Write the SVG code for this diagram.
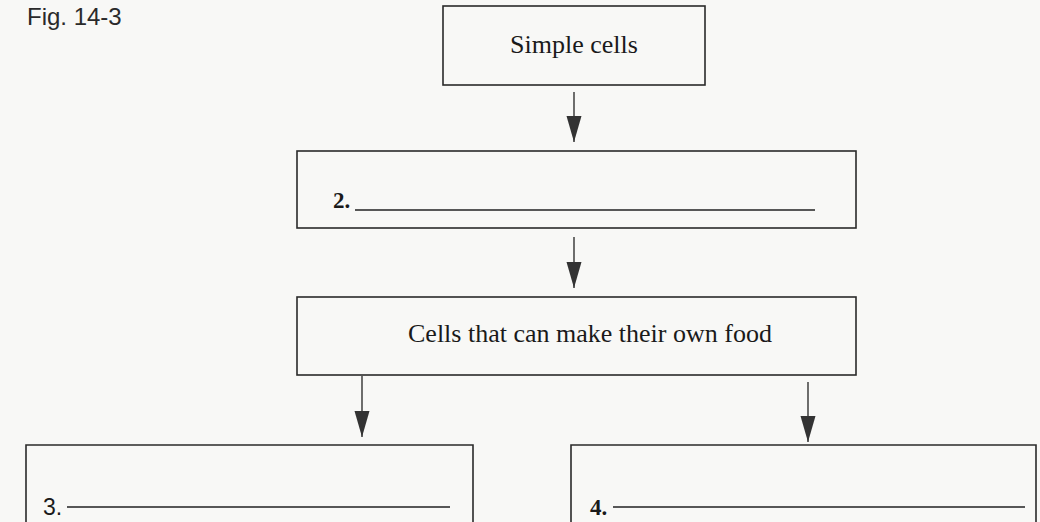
<svg xmlns="http://www.w3.org/2000/svg" width="1040" height="522" viewBox="0 0 1040 522">
  <style>
    .box { fill: none; stroke: #2a2a2a; stroke-width: 1.6; }
    .conn { stroke: #333; stroke-width: 1.4; fill: none; }
    .serif { font-family: "Liberation Serif", "Times New Roman", serif; fill: #1a1a1a; }
    .num { font-family: "Liberation Serif", serif; font-weight: bold; font-size: 23px; fill: #1a1a1a; }
    .num3 { font-family: "Liberation Sans", Arial, sans-serif; font-size: 23px; fill: #1a1a1a; }
    .blank { stroke: #222; stroke-width: 1.5; }
    .fig { font-family: "Liberation Sans", Arial, sans-serif; font-size: 24px; fill: #2a2a2a; }
  </style>
  <defs>
    <marker id="ah" markerUnits="userSpaceOnUse" viewBox="0 -8 27 16" refX="26" refY="0" markerWidth="27" markerHeight="16" orient="auto">
      <path d="M0,-7.5 L26,0 L0,7.5 z" fill="#333"/>
    </marker>
  </defs>
  <rect x="0" y="0" width="1040" height="522" fill="#f8f8f6"/>
  <text class="fig" x="27" y="25">Fig. 14-3</text>

  <g id="node-simple-cells">
    <rect class="box" x="443" y="6" width="262" height="79"/>
    <text class="serif" x="574" y="53" font-size="26" text-anchor="middle">Simple cells</text>
  </g>

  <g id="node-2">
    <rect class="box" x="297" y="151" width="559" height="77"/>
    <text class="num" x="333" y="208">2.</text>
    <line class="blank" x1="355" y1="210" x2="815" y2="210"/>
  </g>

  <g id="node-cells-food">
    <rect class="box" x="297" y="297" width="559" height="78"/>
    <text class="serif" x="408" y="342" font-size="26">Cells that can make their own food</text>
  </g>

  <g id="node-3">
    <path class="box" d="M26,530 V445 H473 V530"/>
    <text class="num3" x="43" y="515">3.</text>
    <line class="blank" x1="67" y1="507" x2="450" y2="507"/>
  </g>

  <g id="node-4">
    <path class="box" d="M571,530 V445 H1036 V530"/>
    <text class="num" x="590" y="515">4.</text>
    <line class="blank" x1="613" y1="507" x2="1025" y2="507"/>
  </g>

  <g id="connectors">
    <line class="conn" x1="574" y1="92" x2="574" y2="142" marker-end="url(#ah)"/>
    <line class="conn" x1="574" y1="237" x2="574" y2="288" marker-end="url(#ah)"/>
    <line class="conn" x1="362" y1="376" x2="362" y2="437" marker-end="url(#ah)"/>
    <line class="conn" x1="808" y1="382" x2="808" y2="442" marker-end="url(#ah)"/>
  </g>
</svg>
